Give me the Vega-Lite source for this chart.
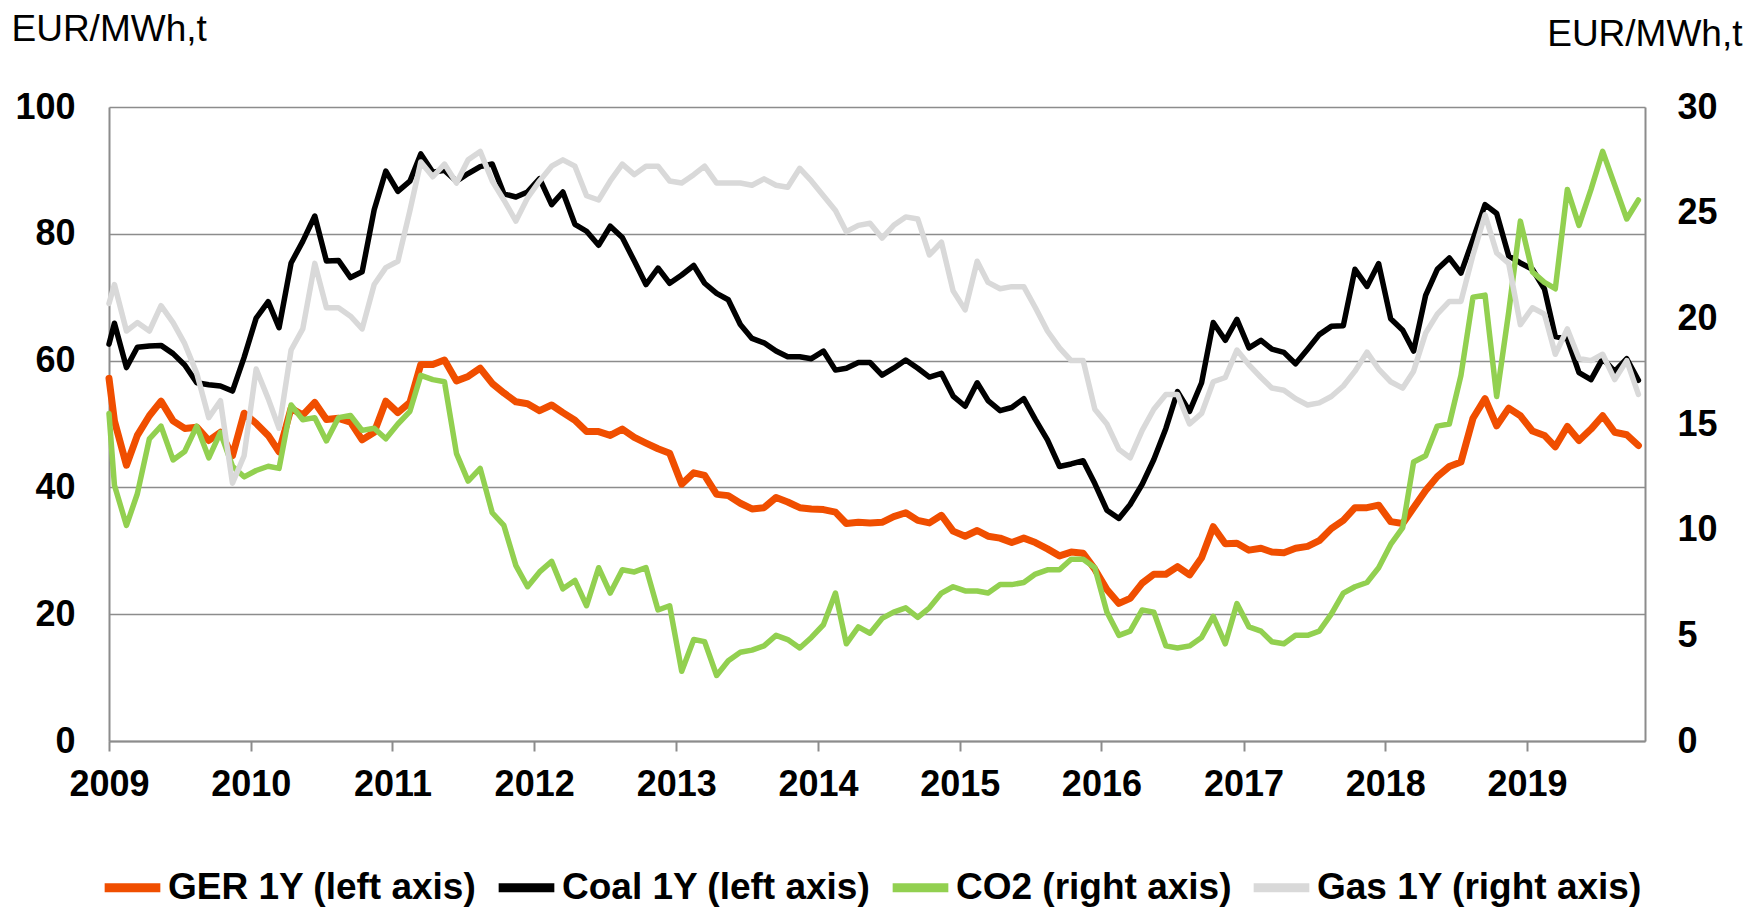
{
"$schema": "https://vega.github.io/schema/vega-lite/v6.json",
"autosize": {"type": "none"},
"width": 1536,
"height": 634,
"padding": {"left": 109, "top": 107, "right": 99, "bottom": 169},
"background": "white",
"config": {"font": "Liberation Sans", "view": {"stroke": null}},
"data": {"values": [
{"d":"2009-01-01","GER":57.2,"Coal":62.6,"CO2":15.5,"Gas":20.7},
{"d":"2009-01-15","GER":50.5,"Coal":65.9,"CO2":12.1,"Gas":21.6},
{"d":"2009-02-15","GER":43.5,"Coal":58.9,"CO2":10.2,"Gas":19.4},
{"d":"2009-03-15","GER":48.2,"Coal":62.1,"CO2":11.7,"Gas":19.8},
{"d":"2009-04-15","GER":51.3,"Coal":62.3,"CO2":14.3,"Gas":19.4},
{"d":"2009-05-15","GER":53.6,"Coal":62.4,"CO2":14.9,"Gas":20.6},
{"d":"2009-06-15","GER":50.5,"Coal":61.1,"CO2":13.3,"Gas":19.8},
{"d":"2009-07-15","GER":49.3,"Coal":59.3,"CO2":13.7,"Gas":18.8},
{"d":"2009-08-15","GER":49.5,"Coal":56.5,"CO2":14.9,"Gas":17.4},
{"d":"2009-09-15","GER":47.4,"Coal":56.2,"CO2":13.4,"Gas":15.3},
{"d":"2009-10-15","GER":48.7,"Coal":56.0,"CO2":14.6,"Gas":16.1},
{"d":"2009-11-15","GER":45.0,"Coal":55.2,"CO2":13.0,"Gas":12.2},
{"d":"2009-12-15","GER":51.7,"Coal":60.5,"CO2":12.5,"Gas":13.5},
{"d":"2010-01-15","GER":50.1,"Coal":66.7,"CO2":12.8,"Gas":17.6},
{"d":"2010-02-15","GER":48.2,"Coal":69.3,"CO2":13.0,"Gas":16.2},
{"d":"2010-03-15","GER":45.6,"Coal":65.2,"CO2":12.9,"Gas":14.8},
{"d":"2010-04-15","GER":52.5,"Coal":75.4,"CO2":15.9,"Gas":18.5},
{"d":"2010-05-15","GER":51.4,"Coal":78.8,"CO2":15.2,"Gas":19.5},
{"d":"2010-06-15","GER":53.4,"Coal":82.8,"CO2":15.3,"Gas":22.6},
{"d":"2010-07-15","GER":50.7,"Coal":75.7,"CO2":14.2,"Gas":20.5},
{"d":"2010-08-15","GER":50.9,"Coal":75.8,"CO2":15.3,"Gas":20.5},
{"d":"2010-09-15","GER":50.3,"Coal":73.1,"CO2":15.4,"Gas":20.1},
{"d":"2010-10-15","GER":47.5,"Coal":74.0,"CO2":14.7,"Gas":19.5},
{"d":"2010-11-15","GER":48.7,"Coal":83.8,"CO2":14.8,"Gas":21.6},
{"d":"2010-12-15","GER":53.6,"Coal":89.9,"CO2":14.3,"Gas":22.4},
{"d":"2011-01-15","GER":51.8,"Coal":86.7,"CO2":15.0,"Gas":22.7},
{"d":"2011-02-15","GER":53.4,"Coal":88.3,"CO2":15.6,"Gas":25.1},
{"d":"2011-03-15","GER":59.4,"Coal":92.6,"CO2":17.3,"Gas":27.4},
{"d":"2011-04-15","GER":59.4,"Coal":89.7,"CO2":17.1,"Gas":26.7},
{"d":"2011-05-15","GER":60.1,"Coal":90.0,"CO2":17.0,"Gas":27.3},
{"d":"2011-06-15","GER":56.8,"Coal":88.3,"CO2":13.6,"Gas":26.4},
{"d":"2011-07-15","GER":57.5,"Coal":89.5,"CO2":12.3,"Gas":27.5},
{"d":"2011-08-15","GER":58.8,"Coal":90.6,"CO2":12.9,"Gas":27.9},
{"d":"2011-09-15","GER":56.4,"Coal":91.0,"CO2":10.8,"Gas":26.5},
{"d":"2011-10-15","GER":54.9,"Coal":86.3,"CO2":10.2,"Gas":25.6},
{"d":"2011-11-15","GER":53.5,"Coal":85.8,"CO2":8.3,"Gas":24.6},
{"d":"2011-12-15","GER":53.2,"Coal":86.6,"CO2":7.3,"Gas":25.7},
{"d":"2012-01-15","GER":52.1,"Coal":88.7,"CO2":8.0,"Gas":26.5},
{"d":"2012-02-15","GER":53.0,"Coal":84.6,"CO2":8.5,"Gas":27.2},
{"d":"2012-03-15","GER":51.8,"Coal":86.6,"CO2":7.2,"Gas":27.5},
{"d":"2012-04-15","GER":50.6,"Coal":81.5,"CO2":7.6,"Gas":27.2},
{"d":"2012-05-15","GER":48.8,"Coal":80.4,"CO2":6.4,"Gas":25.8},
{"d":"2012-06-15","GER":48.8,"Coal":78.2,"CO2":8.2,"Gas":25.6},
{"d":"2012-07-15","GER":48.2,"Coal":81.2,"CO2":7.0,"Gas":26.5},
{"d":"2012-08-15","GER":49.2,"Coal":79.4,"CO2":8.1,"Gas":27.3},
{"d":"2012-09-15","GER":47.9,"Coal":75.7,"CO2":8.0,"Gas":26.8},
{"d":"2012-10-15","GER":47.0,"Coal":72.0,"CO2":8.2,"Gas":27.2},
{"d":"2012-11-15","GER":46.1,"Coal":74.6,"CO2":6.2,"Gas":27.2},
{"d":"2012-12-15","GER":45.4,"Coal":72.2,"CO2":6.4,"Gas":26.5},
{"d":"2013-01-15","GER":40.5,"Coal":73.5,"CO2":3.3,"Gas":26.4},
{"d":"2013-02-15","GER":42.3,"Coal":75.0,"CO2":4.8,"Gas":26.8},
{"d":"2013-03-15","GER":41.9,"Coal":72.2,"CO2":4.7,"Gas":27.2},
{"d":"2013-04-15","GER":38.9,"Coal":70.6,"CO2":3.1,"Gas":26.4},
{"d":"2013-05-15","GER":38.7,"Coal":69.6,"CO2":3.8,"Gas":26.4},
{"d":"2013-06-15","GER":37.5,"Coal":65.7,"CO2":4.2,"Gas":26.4},
{"d":"2013-07-15","GER":36.6,"Coal":63.5,"CO2":4.3,"Gas":26.3},
{"d":"2013-08-15","GER":36.8,"Coal":62.8,"CO2":4.5,"Gas":26.6},
{"d":"2013-09-15","GER":38.4,"Coal":61.5,"CO2":5.0,"Gas":26.3},
{"d":"2013-10-15","GER":37.7,"Coal":60.6,"CO2":4.8,"Gas":26.2},
{"d":"2013-11-15","GER":36.8,"Coal":60.6,"CO2":4.4,"Gas":27.1},
{"d":"2013-12-15","GER":36.6,"Coal":60.3,"CO2":4.9,"Gas":26.5},
{"d":"2014-01-15","GER":36.5,"Coal":61.5,"CO2":5.5,"Gas":25.8},
{"d":"2014-02-15","GER":36.1,"Coal":58.5,"CO2":7.0,"Gas":25.1},
{"d":"2014-03-15","GER":34.3,"Coal":58.8,"CO2":4.6,"Gas":24.1},
{"d":"2014-04-15","GER":34.5,"Coal":59.7,"CO2":5.4,"Gas":24.4},
{"d":"2014-05-15","GER":34.4,"Coal":59.7,"CO2":5.1,"Gas":24.5},
{"d":"2014-06-15","GER":34.5,"Coal":57.7,"CO2":5.8,"Gas":23.8},
{"d":"2014-07-15","GER":35.4,"Coal":58.8,"CO2":6.1,"Gas":24.4},
{"d":"2014-08-15","GER":36.0,"Coal":60.1,"CO2":6.3,"Gas":24.8},
{"d":"2014-09-15","GER":34.8,"Coal":58.8,"CO2":5.85,"Gas":24.7},
{"d":"2014-10-15","GER":34.4,"Coal":57.4,"CO2":6.3,"Gas":23.0},
{"d":"2014-11-15","GER":35.6,"Coal":58.0,"CO2":7.0,"Gas":23.6},
{"d":"2014-12-15","GER":33.1,"Coal":54.4,"CO2":7.3,"Gas":21.3},
{"d":"2015-01-15","GER":32.3,"Coal":52.8,"CO2":7.1,"Gas":20.4},
{"d":"2015-02-15","GER":33.2,"Coal":56.5,"CO2":7.1,"Gas":22.7},
{"d":"2015-03-15","GER":32.3,"Coal":53.7,"CO2":7.0,"Gas":21.7},
{"d":"2015-04-15","GER":32.0,"Coal":52.1,"CO2":7.4,"Gas":21.4},
{"d":"2015-05-15","GER":31.3,"Coal":52.6,"CO2":7.4,"Gas":21.5},
{"d":"2015-06-15","GER":32.0,"Coal":54.0,"CO2":7.5,"Gas":21.5},
{"d":"2015-07-15","GER":31.3,"Coal":50.7,"CO2":7.9,"Gas":20.5},
{"d":"2015-08-15","GER":30.3,"Coal":47.5,"CO2":8.1,"Gas":19.4},
{"d":"2015-09-15","GER":29.2,"Coal":43.3,"CO2":8.1,"Gas":18.6},
{"d":"2015-10-15","GER":29.8,"Coal":43.7,"CO2":8.6,"Gas":18.0},
{"d":"2015-11-15","GER":29.6,"Coal":44.2,"CO2":8.6,"Gas":18.0},
{"d":"2015-12-15","GER":27.1,"Coal":40.6,"CO2":8.2,"Gas":15.7},
{"d":"2016-01-15","GER":23.9,"Coal":36.4,"CO2":6.1,"Gas":15.0},
{"d":"2016-02-15","GER":21.7,"Coal":35.1,"CO2":5.0,"Gas":13.8},
{"d":"2016-03-15","GER":22.5,"Coal":37.3,"CO2":5.2,"Gas":13.4},
{"d":"2016-04-15","GER":24.9,"Coal":40.5,"CO2":6.2,"Gas":14.7},
{"d":"2016-05-15","GER":26.3,"Coal":44.4,"CO2":6.1,"Gas":15.7},
{"d":"2016-06-15","GER":26.3,"Coal":49.3,"CO2":4.5,"Gas":16.4},
{"d":"2016-07-15","GER":27.5,"Coal":55.1,"CO2":4.4,"Gas":16.4},
{"d":"2016-08-15","GER":26.2,"Coal":52.0,"CO2":4.5,"Gas":15.0},
{"d":"2016-09-15","GER":28.9,"Coal":56.5,"CO2":4.9,"Gas":15.5},
{"d":"2016-10-15","GER":33.8,"Coal":66.0,"CO2":5.9,"Gas":17.0},
{"d":"2016-11-15","GER":31.1,"Coal":63.2,"CO2":4.6,"Gas":17.2},
{"d":"2016-12-15","GER":31.2,"Coal":66.5,"CO2":6.5,"Gas":18.5},
{"d":"2017-01-15","GER":30.1,"Coal":62.0,"CO2":5.4,"Gas":17.8},
{"d":"2017-02-15","GER":30.4,"Coal":63.2,"CO2":5.2,"Gas":17.2},
{"d":"2017-03-15","GER":29.8,"Coal":61.8,"CO2":4.7,"Gas":16.7},
{"d":"2017-04-15","GER":29.7,"Coal":61.3,"CO2":4.6,"Gas":16.6},
{"d":"2017-05-15","GER":30.4,"Coal":59.5,"CO2":5.0,"Gas":16.2},
{"d":"2017-06-15","GER":30.7,"Coal":61.8,"CO2":5.0,"Gas":15.9},
{"d":"2017-07-15","GER":31.6,"Coal":64.1,"CO2":5.2,"Gas":16.0},
{"d":"2017-08-15","GER":33.5,"Coal":65.4,"CO2":6.0,"Gas":16.3},
{"d":"2017-09-15","GER":34.8,"Coal":65.5,"CO2":7.0,"Gas":16.8},
{"d":"2017-10-15","GER":36.8,"Coal":74.4,"CO2":7.3,"Gas":17.5},
{"d":"2017-11-15","GER":36.8,"Coal":71.7,"CO2":7.5,"Gas":18.4},
{"d":"2017-12-15","GER":37.2,"Coal":75.3,"CO2":8.2,"Gas":17.6},
{"d":"2018-01-15","GER":34.6,"Coal":66.6,"CO2":9.3,"Gas":17.0},
{"d":"2018-02-15","GER":34.3,"Coal":64.8,"CO2":10.1,"Gas":16.7},
{"d":"2018-03-15","GER":36.8,"Coal":61.5,"CO2":13.2,"Gas":17.5},
{"d":"2018-04-15","GER":39.5,"Coal":70.3,"CO2":13.5,"Gas":19.3},
{"d":"2018-05-15","GER":41.7,"Coal":74.4,"CO2":14.9,"Gas":20.2},
{"d":"2018-06-15","GER":43.3,"Coal":76.2,"CO2":15.0,"Gas":20.8},
{"d":"2018-07-15","GER":44.0,"Coal":73.8,"CO2":17.3,"Gas":20.8},
{"d":"2018-08-15","GER":50.9,"Coal":79.1,"CO2":21.0,"Gas":23.0},
{"d":"2018-09-15","GER":54.0,"Coal":84.6,"CO2":21.1,"Gas":24.9},
{"d":"2018-10-15","GER":49.7,"Coal":83.2,"CO2":16.3,"Gas":23.1},
{"d":"2018-11-15","GER":52.5,"Coal":76.5,"CO2":20.3,"Gas":22.6},
{"d":"2018-12-15","GER":51.3,"Coal":75.4,"CO2":24.6,"Gas":19.7},
{"d":"2019-01-15","GER":48.9,"Coal":74.4,"CO2":22.2,"Gas":20.5},
{"d":"2019-02-15","GER":48.2,"Coal":71.3,"CO2":21.7,"Gas":20.2},
{"d":"2019-03-15","GER":46.4,"Coal":63.8,"CO2":21.4,"Gas":18.3},
{"d":"2019-04-15","GER":49.6,"Coal":63.4,"CO2":26.1,"Gas":19.5},
{"d":"2019-05-15","GER":47.4,"Coal":58.1,"CO2":24.4,"Gas":18.1},
{"d":"2019-06-15","GER":49.2,"Coal":57.0,"CO2":26.1,"Gas":18.0},
{"d":"2019-07-15","GER":51.3,"Coal":60.3,"CO2":27.9,"Gas":18.3},
{"d":"2019-08-15","GER":48.7,"Coal":58.3,"CO2":26.3,"Gas":17.1},
{"d":"2019-09-15","GER":48.3,"Coal":60.3,"CO2":24.7,"Gas":18.0},
{"d":"2019-10-15","GER":46.6,"Coal":56.9,"CO2":25.6,"Gas":16.4}
]},
"encoding": {
  "x": {"field": "d", "type": "temporal",
    "scale": {"type": "utc", "domain": [{"year": 2009, "month": 1, "date": 1, "utc": true}, {"year": 2019, "month": 11, "date": 1, "utc": true}]},
    "axis": {"title": null, "grid": false, "format": "%Y", "formatType": "utc",
      "values": [{"year":2009,"month":1,"date":1,"utc":true},{"year":2010,"month":1,"date":1,"utc":true},{"year":2011,"month":1,"date":1,"utc":true},{"year":2012,"month":1,"date":1,"utc":true},{"year":2013,"month":1,"date":1,"utc":true},{"year":2014,"month":1,"date":1,"utc":true},{"year":2015,"month":1,"date":1,"utc":true},{"year":2016,"month":1,"date":1,"utc":true},{"year":2017,"month":1,"date":1,"utc":true},{"year":2018,"month":1,"date":1,"utc":true},{"year":2019,"month":1,"date":1,"utc":true}],
      "domainColor": "#8c8c8c", "domainWidth": 2, "tickColor": "#8c8c8c", "tickWidth": 2, "tickSize": 10,
      "labelFontSize": 36, "labelFontWeight": "bold", "labelColor": "#000000", "labelPadding": 16, "labelDx": 5,
      "labelFlush": false, "labelOverlap": false}
  }
},
"layer": [
  {"layer": [
    {"mark": {"type": "line", "strokeWidth": 7, "strokeJoin": "round", "strokeCap": "round"},
     "encoding": {
       "y": {"field": "GER", "type": "quantitative", "scale": {"domain": [0, 100], "nice": false},
         "axis": {"orient": "left", "values": [0, 20, 40, 60, 80, 100], "grid": true, "gridColor": "#8c8c8c", "gridWidth": 1.5,
           "domain": true, "domainColor": "#8c8c8c", "domainWidth": 2, "ticks": false, "labelPadding": 34,
           "labelFontSize": 36, "labelFontWeight": "bold", "labelColor": "#000000",
           "title": "EUR/MWh,t", "titleAngle": 0, "titleX": -98, "titleY": -67, "titleAlign": "left", "titleBaseline": "alphabetic",
           "titleFontSize": 37, "titleFontWeight": "normal", "titleColor": "#000000"}},
       "color": {"datum": "GER 1Y (left axis)", "type": "nominal",
         "scale": {"domain": ["GER 1Y (left axis)", "Coal 1Y (left axis)", "CO2 (right axis)", "Gas 1Y (right axis)"],
                   "range": ["#f04e00", "#000000", "#92d050", "#d9d9d9"]},
         "legend": {"orient": "none", "legendX": -9, "legendY": 748, "direction": "horizontal", "columns": 4, "title": null,
           "padding": 0, "labelFontSize": 37, "labelFontWeight": "bold", "labelColor": "#000000", "labelLimit": 700,
           "symbolType": "stroke", "symbolSize": 3100, "symbolStrokeWidth": 9, "columnPadding": 3, "labelOffset": 3}}
     }},
    {"mark": {"type": "line", "strokeWidth": 5.5, "strokeJoin": "round", "strokeCap": "round"},
     "encoding": {
       "y": {"field": "Coal", "type": "quantitative", "scale": {"domain": [0, 100], "nice": false},
         "axis": {"orient": "left", "values": [0, 20, 40, 60, 80, 100], "grid": true, "gridColor": "#8c8c8c", "gridWidth": 1.5,
           "domain": true, "domainColor": "#8c8c8c", "domainWidth": 2, "ticks": false, "labelPadding": 34,
           "labelFontSize": 36, "labelFontWeight": "bold", "labelColor": "#000000",
           "title": "EUR/MWh,t", "titleAngle": 0, "titleX": -98, "titleY": -67, "titleAlign": "left", "titleBaseline": "alphabetic",
           "titleFontSize": 37, "titleFontWeight": "normal", "titleColor": "#000000"}},
       "color": {"datum": "Coal 1Y (left axis)", "type": "nominal"}
     }}
  ]},
  {"layer": [
    {"mark": {"type": "line", "strokeWidth": 5.5, "strokeJoin": "round", "strokeCap": "round"},
     "encoding": {
       "y": {"field": "CO2", "type": "quantitative", "scale": {"domain": [0, 30], "nice": false},
         "axis": {"orient": "right", "values": [0, 5, 10, 15, 20, 25, 30], "grid": false,
           "domain": true, "domainColor": "#8c8c8c", "domainWidth": 2, "ticks": false, "labelPadding": 32,
           "labelFontSize": 36, "labelFontWeight": "bold", "labelColor": "#000000",
           "title": "EUR/MWh,t", "titleAngle": 0, "titleX": 97, "titleY": -62, "titleAlign": "right", "titleBaseline": "alphabetic",
           "titleFontSize": 37, "titleFontWeight": "normal", "titleColor": "#000000"}},
       "color": {"datum": "CO2 (right axis)", "type": "nominal"}
     }},
    {"mark": {"type": "line", "strokeWidth": 5.5, "strokeJoin": "round", "strokeCap": "round"},
     "encoding": {
       "y": {"field": "Gas", "type": "quantitative", "scale": {"domain": [0, 30], "nice": false},
         "axis": {"orient": "right", "values": [0, 5, 10, 15, 20, 25, 30], "grid": false,
           "domain": true, "domainColor": "#8c8c8c", "domainWidth": 2, "ticks": false, "labelPadding": 32,
           "labelFontSize": 36, "labelFontWeight": "bold", "labelColor": "#000000",
           "title": "EUR/MWh,t", "titleAngle": 0, "titleX": 97, "titleY": -62, "titleAlign": "right", "titleBaseline": "alphabetic",
           "titleFontSize": 37, "titleFontWeight": "normal", "titleColor": "#000000"}},
       "color": {"datum": "Gas 1Y (right axis)", "type": "nominal"}
     }}
  ]}
],
"resolve": {"scale": {"y": "independent"}}
}
